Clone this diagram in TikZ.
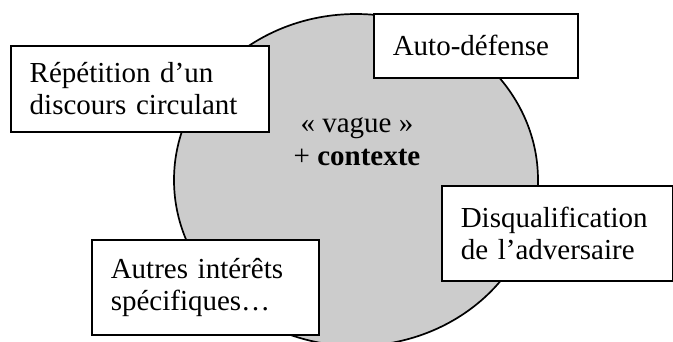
\documentclass[tikz,border=0pt]{standalone}
\usepackage{fontspec}
\setmainfont{Liberation Serif}
\definecolor{discgray}{RGB}{204,204,204}
\newcommand{\nohyph}{\hyphenpenalty=10000\relax\exhyphenpenalty=10000\relax}
\tikzset{
  every picture/.style={x=1pt,y=-1pt},
  box/.style={draw=black, line width=1.5pt, fill=white, rectangle, align=left,
    inner xsep=19pt, inner ysep=0pt, anchor=north west,
    font={\fontsize{29}{32}\selectfont\nohyph}},
  centertext/.style={align=center, inner sep=0pt, font={\fontsize{29}{33}\selectfont}}
}
\begin{document}
\begin{tikzpicture}
\useasboundingbox (0,0) rectangle (673,341);
\fill[white] (0,0) rectangle (673,341);
\draw[fill=discgray, line width=1.7pt] (356,180) ellipse [x radius=182, y radius=166];
\node[centertext] (core) at (357,142) {«~vague~»\\+ \textbf{contexte}};
\node[box, minimum width=258pt, minimum height=86pt, text width=220pt] (rep) at (10,45)
  {Répétition d’un\\discours circulant};
\node[box, minimum width=204pt, minimum height=64pt, text width=166pt] (auto) at (373,13)
  {Auto-défense};
\node[box, minimum width=231pt, minimum height=95pt, text width=193pt] (disq) at (441,185)
  {Disqualification\\de l’adversaire};
\node[box, minimum width=227pt, minimum height=95pt, text width=189pt] (autres) at (91,239)
  {Autres intérêts\\spécifiques…};
\end{tikzpicture}
\end{document}
